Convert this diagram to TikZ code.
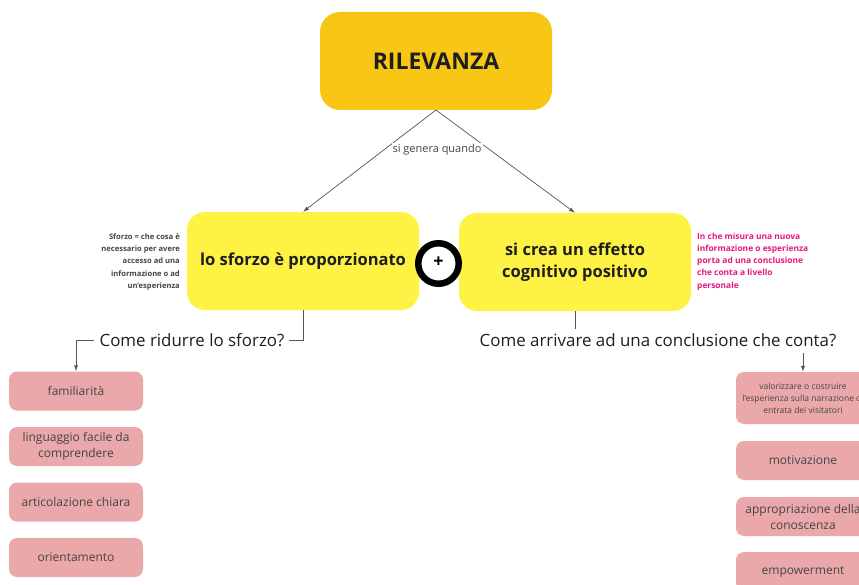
\documentclass[tikz,border=0pt]{standalone}
\usepackage{fontspec}
\setmainfont{Open Sans}
\usetikzlibrary{arrows.meta}
\definecolor{amber}{HTML}{F8C715}
\definecolor{yel}{HTML}{FEF245}
\definecolor{pink}{HTML}{EBA8AA}
\definecolor{txt}{HTML}{1E1E1E}
\definecolor{gtxt}{HTML}{444444}
\definecolor{mag}{HTML}{E5177E}
\definecolor{lin}{HTML}{555555}
\tikzset{
  x=1pt,y=-1pt,
  mainbox/.style={fill=amber,rounded corners=20pt,minimum width=232pt,minimum height=98pt,inner sep=0pt,font=\fontsize{23}{26}\selectfont\bfseries,text=txt},
  ybox/.style={fill=yel,rounded corners=18pt,minimum width=232pt,minimum height=98pt,inner sep=0pt,font=\fontsize{16.5}{22}\selectfont\bfseries,text=txt,align=center},
  pbox/.style={fill=pink,rounded corners=8pt,minimum width=134pt,minimum height=39pt,inner sep=0pt,font=\fontsize{12}{16}\selectfont,text=gtxt,align=center},
  qtext/.style={font=\fontsize{16.9}{20}\selectfont,text=txt,inner sep=0pt},
  conn/.style={draw=lin,line width=0.7pt},
  arr/.style={conn,-{Latex[length=6pt,width=4pt]}},
  note/.style={font=\fontsize{7.6}{12.3}\selectfont\bfseries,inner sep=0pt},
}
\begin{document}
\begin{tikzpicture}
\useasboundingbox (0,0) rectangle (859,585);
\node[mainbox] (rel) at (436,61) {RILEVANZA};
\node[ybox] (sf) at (303,261) {lo sforzo è proporzionato};
\node[ybox] (ef) at (575,262) {si crea un effetto\\cognitivo positivo};
\coordinate (top) at (436,110);
\draw[arr] (top) -- (sf.north);
\draw[arr] (top) -- (ef.north);
\node[fill=white,inner sep=1pt,font=\fontsize{11}{13}\selectfont,text=gtxt] (lab) at (437,150) {si genera quando};
% plus
\node[circle,draw=black,line width=6.5pt,fill=white,minimum size=40.5pt,inner sep=0pt] (plus) at (438.5,263.5) {};
\node[font=\fontsize{18}{18}\selectfont\bfseries] (plust) at (438.5,262.5) {+};
% notes
\node[note,text=gtxt,align=right,anchor=east] (n1) at (180,262) {Sforzo = che cosa è\\necessario per avere\\accesso ad una\\informazione o ad\\un’esperienza};
\node[note,text=mag,align=left,anchor=west,font=\fontsize{8.4}{12.3}\selectfont\bfseries] (n2) at (697,261.5) {In che misura una nuova\\informazione o esperienza\\porta ad una conclusione\\che conta a livello\\personale};
% questions
\node[qtext] (q1) at (192,340) {Come ridurre lo sforzo?};
\node[qtext] (q2) at (658,340) {Come arrivare ad una conclusione che conta?};
% left column
\node[pbox] (l1) at (76,391) {familiarità};
\node[pbox] (l2) at (76,446.5) {linguaggio facile da\\comprendere};
\node[pbox] (l3) at (76,502) {articolazione chiara};
\node[pbox] (l4) at (76,557.5) {orientamento};
% right column
\node[pbox,minimum height=52pt,font=\fontsize{8.5}{12}\selectfont] (r1) at (803,398) {valorizzare o costruire\\l’esperienza sulla narrazione di\\entrata dei visitatori};
\node[pbox] (r2) at (803,460.5) {motivazione};
\node[pbox] (r3) at (803,516.5) {appropriazione della\\conoscenza};
\node[pbox] (r4) at (803,571.5) {empowerment};
% connectors
\draw[conn] (sf.south) |- ([xshift=4pt]q1.east);
\draw[arr] ([xshift=-5pt]q1.west) -| (l1.north);
\draw[conn] (ef.south) -- ++(0,18);
\coordinate (r1top) at (803,353);
\draw[arr] (r1top) -- (r1.north);
\end{tikzpicture}
\end{document}
